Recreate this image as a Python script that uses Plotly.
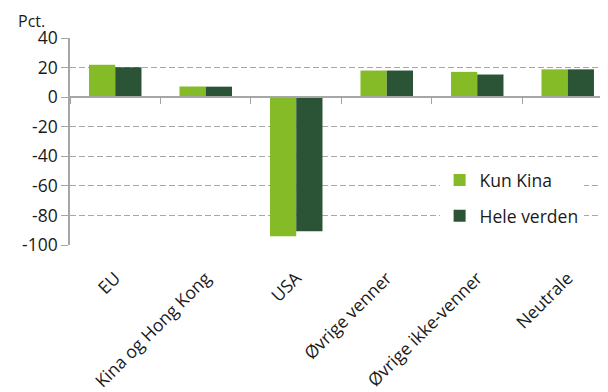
import plotly.graph_objects as go

categories = ["EU", "Kina og Hong Kong", "USA", "Øvrige venner", "Øvrige ikke-venner", "Neutrale"]
kun_kina = [21.9, 7.2, -94.1, 18.0, 17.1, 18.8]
hele_verden = [20.2, 7.1, -90.7, 18.0, 15.3, 18.8]
y_ticks = [40, 20, 0, -20, -40, -60, -80, -100]
y_tick_text = ["40", "20", "0", "-20", "-40", "-60", "-80", "-100"]

green = "#85BB27"
dark = "#2B5436"
grid = "#A6A6A6"
font = "Open Sans"
fs = 17.5

fig = go.Figure()
fig.add_trace(go.Bar(x=categories, y=kun_kina, name="Kun Kina",
                     marker=dict(color=green, line=dict(width=0)), legendgroup="a"))
fig.add_trace(go.Bar(x=categories, y=hele_verden, name="Hele verden",
                     marker=dict(color=dark, line=dict(width=0)), legendgroup="b"))
# helper trace so the zero-line axis has categories (for boundary ticks)
fig.add_trace(go.Scatter(x=categories, y=[0] * len(categories), xaxis="x2", mode="markers",
                         marker=dict(opacity=0), showlegend=False, hoverinfo="skip"))

fig.update_layout(
    width=600, height=384,
    margin=dict(l=62, r=0, t=30, b=147),
    paper_bgcolor="white", plot_bgcolor="white",
    font=dict(family=font, size=fs, color="#1a1a1a"),
    barmode="group", bargap=0.42, bargroupgap=0,
    showlegend=True,
    legend=dict(x=0.687, y=0.40, xanchor="left", yanchor="top", bgcolor="white",
                font=dict(size=fs, color="#1a1a1a"), tracegroupgap=10,
                itemwidth=30, traceorder="grouped"),
    xaxis=dict(type="category", categoryarray=categories, range=[-0.5, 5.445],
               showline=False, ticks="outside", ticklen=15, tickcolor="rgba(0,0,0,0)",
               showgrid=False, tickangle=-45,
               tickfont=dict(size=fs, color="#1a1a1a"), automargin=False),
    xaxis2=dict(type="category", categoryarray=categories, overlaying="x", matches="x",
                anchor="free", position=100 / 140, showline=True, linecolor=grid, linewidth=1.5,
                ticks="outside", tickson="boundaries", ticklen=6, tickcolor=grid,
                showticklabels=False, showgrid=False),
    yaxis=dict(range=[-100, 40], tickvals=y_ticks, ticktext=y_tick_text,
               showgrid=True, gridcolor=grid,
               griddash="6px,3px", gridwidth=1, zeroline=False,
               showline=True, linecolor=grid, linewidth=1.5,
               ticks="outside", ticklen=7, tickcolor=grid,
               tickfont=dict(size=fs, color="#1a1a1a"), automargin=False),
    annotations=[dict(text="Pct.", xref="paper", yref="paper", x=-0.1, y=1.145,
                      xanchor="left", yanchor="top", showarrow=False,
                      font=dict(size=16, color="#1a1a1a"))],
)

fig.write_html("out.html")
